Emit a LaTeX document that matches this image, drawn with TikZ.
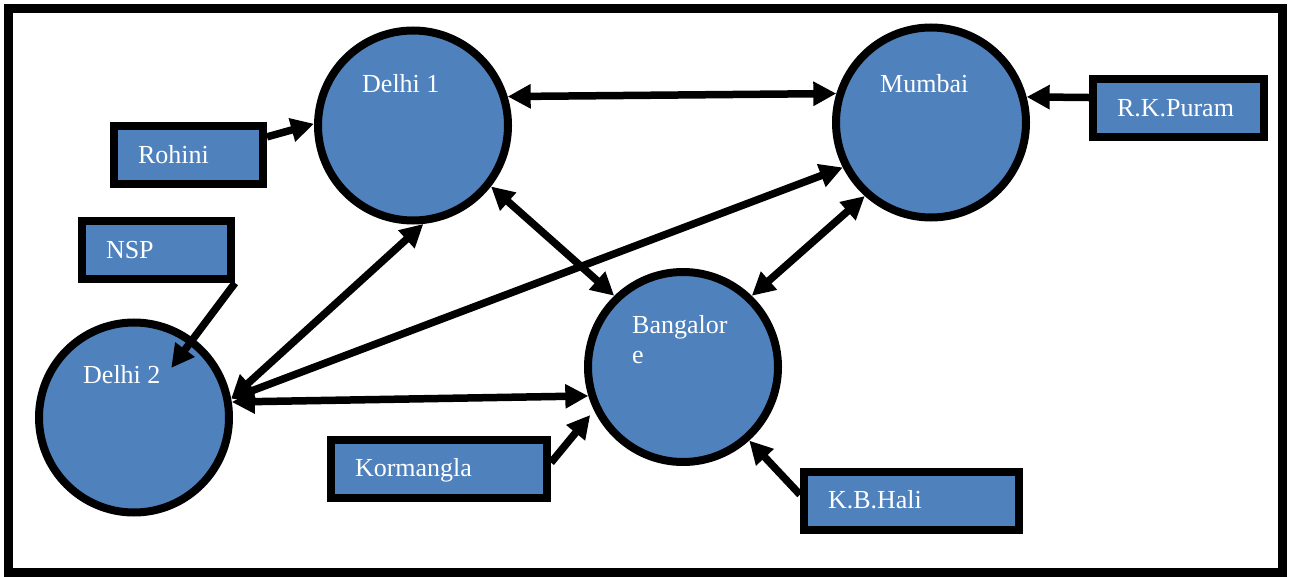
\documentclass[tikz,border=0pt]{standalone}
\usepackage{fontspec}
\setmainfont{LiberationSerif}[Extension=.ttf, UprightFont=*-Regular,
  BoldFont=*-Bold, ItalicFont=*-Italic, BoldItalicFont=*-BoldItalic]
\usetikzlibrary{arrows.meta}
\definecolor{nodeblue}{HTML}{4F81BD}
\begin{document}
\begin{tikzpicture}[x=1pt,y=-1pt,
  city/.style={circle, draw=black, line width=8pt, fill=nodeblue,
    minimum size=190pt, inner sep=0pt},
  place/.style={rectangle, draw=black, line width=8pt, fill=nodeblue,
    minimum height=58pt, inner xsep=24pt, inner ysep=0pt, align=left,
    text height=18pt, text depth=1.5pt, text=white,
    font=\fontsize{26}{30}\selectfont},
  caption/.style={anchor=base west, inner sep=0pt, text=white,
    font=\fontsize{26}{30}\selectfont},
  link/.style={line width=7.5pt, draw=black},
  >={Triangle[length=23pt,width=23pt]}
]
\useasboundingbox (0,0) rectangle (1289,577);

% outer frame
\draw[line width=9pt] (8.5,8.5) rectangle (1282.5,572.5);

% cities
\node[city] (d1) at (413,125.5) {};
\node[city] (mu) at (931,122.5) {};
\node[city] (d2) at (134,417.5) {};
\node[city] (bg) at (683,367) {};

\node[caption] (d1t) at ([xshift=-51pt,yshift=33pt]d1.center) {Delhi 1};
\node[caption] (mut) at ([xshift=-51pt,yshift=30pt]mu.center) {Mumbai};
\node[caption] (d2t) at ([xshift=-51pt,yshift=34pt]d2.center) {Delhi 2};
\node[caption] (bgt) at ([xshift=-51pt,yshift=34pt]bg.center) {\vtop{\hbox{Bangalor}\hbox{e}}};

% localities
\node[place, text width=101pt] (rohini) at (188.5,155) {Rohini};
\node[place, text width=101pt] (nsp) at (156.5,250) {NSP};
\node[place, text width=168pt] (kor) at (439,468.5) {Kormangla};
\node[place, text width=167pt] (kbh) at (911.5,500.5) {K.B.Hali};
\node[place, text width=123pt] (rkp) at (1178.5,108.5) {R.K.Puram};

% links between cities
\draw[link,<->] (d1.17) -- (mu.163);
\draw[link,<->] (d1.-38) -- (bg.134);
\draw[link,<->] (mu.228) -- (bg.46);
\draw[link,<->] (d2.11) -- (mu.207);
\draw[link,<->] (d2.11) -- (d1.-84);
\draw[link,<->] (d2.9) -- (bg.197);

% localities feeding cities
\draw[link,->] (rohini.13) -- (d1.179);
\draw[link,->] (rkp.173) -- (mu.15);
\draw[link,->,shorten >=62pt] (nsp.south east) -- (d2.center);
\draw[link,->,shorten >=6pt] (kor.3) -- (bg.206);
\draw[link,->] (kbh.177) -- (bg.-48);
\end{tikzpicture}
\end{document}
